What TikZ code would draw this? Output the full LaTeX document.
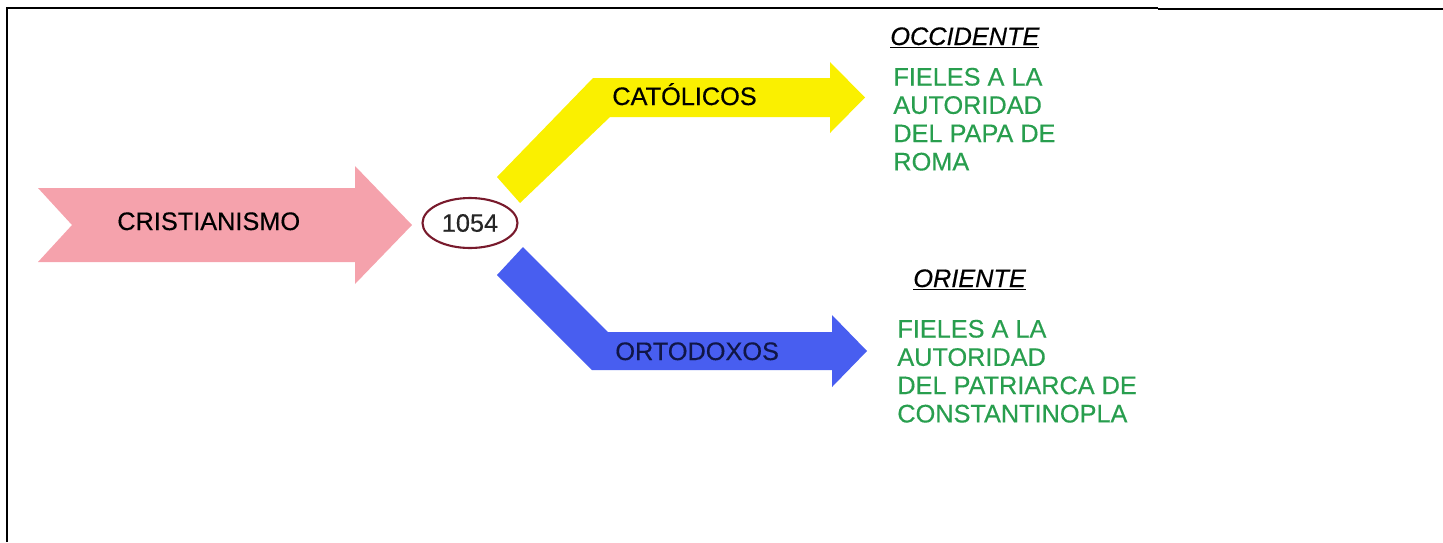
\documentclass[tikz,border=0pt]{standalone}
\usepackage{fontspec}
\setmainfont{Liberation Sans}[FakeBold=0.4]
\usepackage{tikz}
\usetikzlibrary{shapes.geometric}

\definecolor{rosa}{RGB}{245,162,172}
\definecolor{amarillo}{RGB}{250,240,0}
\definecolor{azul}{RGB}{72,94,240}
\definecolor{verde}{RGB}{40,158,78}
\definecolor{granate}{RGB}{120,26,44}
\definecolor{marino}{RGB}{16,22,70}

\begin{document}
\begin{tikzpicture}[x=0.02cm,y=-0.02cm,
    lbl/.style={font=\fontsize{14.4}{16.1}\selectfont,inner sep=0pt},
    nota/.style={lbl,text=verde,align=left,anchor=north west},
    zona/.style={lbl,anchor=base west}]
    \useasboundingbox (0,0) rectangle (1443,542);
    % marco
    \draw[line width=0.85pt](7,542)--(7,8)--(1158,8);
    \draw[line width=1.1pt](1158,9)--(1443,9);
    % flechas
    \fill[rosa](38,188)--(355,188)--(355,166)--(412,225)--(355,284)--(355,262)--(38,262)--(72,225)--cycle;
    \fill[amarillo](497,177)--(593,78)--(830,78)--(830,62)--(865,97.5)--(830,133)--(830,117)--(610,117)--(520,203)--cycle;
    \fill[azul](523,247)--(608,332)--(832,332)--(832,315)--(867,351)--(832,387)--(832,370)--(592,370)--(497,275)--cycle;
    \node[lbl,anchor=base west] (cristianismo) at (117,230){CRISTIANISMO};
    \node[lbl,anchor=base west] (catolicos) at (612,105){CATÓLICOS};
    \node[lbl,anchor=base west,text=marino] (ortodoxos) at (615,360){ORTODOXOS};
    \node[lbl,ellipse,draw=granate,line width=1.2pt,minimum width=1.9cm,minimum height=1cm,text=black!85] (cisma) at (470,223){1054};
    % textos de la derecha
    \node[zona] (occidente) at (890,45){\textit{\underline{OCCIDENTE}}};
    \node[nota] (roma) at (893,67.5){FIELES A LA\\AUTORIDAD\\DEL PAPA DE\\ROMA};
    \node[zona] (oriente) at (913,287){\textit{\underline{ORIENTE}}};
    \node[nota] (patriarca) at (897,319.5){FIELES A LA\\AUTORIDAD\\DEL PATRIARCA DE\\CONSTANTINOPLA};
\end{tikzpicture}
\end{document}
